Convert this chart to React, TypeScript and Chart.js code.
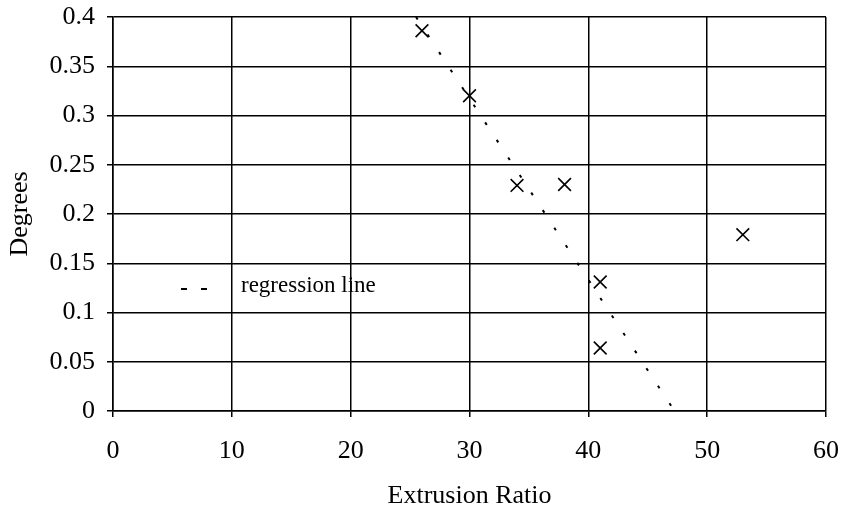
import React, { useEffect, useRef } from "react";
import { Chart, registerables } from "chart.js";
Chart.register(...registerables);

const extrusionRatio = [26, 30, 34, 38, 41, 41, 53];
const degrees = [0.386, 0.32, 0.229, 0.23, 0.131, 0.064, 0.179];
const regressionX = [25.5, 47.25];
const regressionY = [0.4, 0];
const xTicks = [0, 10, 20, 30, 40, 50, 60];
const xTickLabels = ["0", "10", "20", "30", "40", "50", "60"];
const yTicks = [0, 0.05, 0.1, 0.15, 0.2, 0.25, 0.3, 0.35, 0.4];
const yTickLabels = ["0", "0.05", "0.1", "0.15", "0.2", "0.25", "0.3", "0.35", "0.4"];
const xTitle = "Extrusion Ratio";
const yTitle = "Degrees";
const regressionLabel = "regression line";

const FONT = "'Liberation Serif', 'Times New Roman', serif";

const insideLegend = {
  id: "insideLegend",
  afterDatasetsDraw(chart: any) {
    const ctx = chart.ctx;
    const a = chart.chartArea;
    const ds = chart.data.datasets[1];
    ctx.save();
    ctx.strokeStyle = "#000";
    ctx.lineWidth = 2;
    ctx.setLineDash([6, 14]);
    ctx.beginPath();
    ctx.moveTo(a.left + 68, a.top + 272);
    ctx.lineTo(a.left + 96, a.top + 272);
    ctx.stroke();
    ctx.setLineDash([]);
    ctx.fillStyle = "#000";
    ctx.font = `23px ${FONT}`;
    ctx.textBaseline = "alphabetic";
    ctx.textAlign = "left";
    ctx.fillText(ds.label, a.left + 128, a.top + 275);
    ctx.restore();
  },
};

export default function App() {
  const ref = useRef<HTMLCanvasElement | null>(null);
  useEffect(() => {
    document.body.style.margin = "0";
    const c = ref.current!;
    const chart = new Chart(c, {
      type: "scatter",
      data: {
        datasets: [
          {
            type: "scatter",
            label: "data",
            data: extrusionRatio.map((x, i) => ({ x, y: degrees[i] })),
            pointStyle: "crossRot",
            pointRadius: 9,
            pointBorderWidth: 1.6,
            borderColor: "#000",
            backgroundColor: "#000",
            showLine: false,
          } as any,
          {
            type: "line",
            label: regressionLabel,
            data: regressionX.map((x, i) => ({ x, y: regressionY[i] })),
            borderColor: "#000",
            borderWidth: 2,
            borderDash: [3, 18],
            pointRadius: 0,
            fill: false,
          } as any,
        ],
      },
      options: {
        animation: false,
        responsive: true,
        maintainAspectRatio: false,
        layout: { padding: { top: 17, right: 16, left: 0, bottom: 0 } },
        plugins: { legend: { display: false }, tooltip: { enabled: false } },
        scales: {
          x: {
            type: "linear",
            min: 0,
            max: 60,
            afterFit: (s: any) => {
              s.height = 101;
              s.paddingLeft = 0;
              s.paddingRight = 0;
            },
            afterBuildTicks: (s: any) => {
              s.ticks = xTicks.map((v) => ({ value: v }));
            },
            ticks: {
              callback: (_v: any, i: number) => xTickLabels[i],
              color: "#000",
              font: { family: FONT, size: 26 },
              padding: 19,
              maxRotation: 0,
            },
            grid: { color: "#000", lineWidth: 1.5, drawTicks: true, tickLength: 6, tickColor: "#000" },
            border: { display: true, color: "#000", width: 1.5 },
            title: {
              display: true,
              text: xTitle,
              color: "#000",
              font: { family: FONT, size: 26 },
              padding: { top: 0, bottom: 0 },
            },
          },
          y: {
            type: "linear",
            min: 0,
            max: 0.4,
            afterFit: (s: any) => {
              s.width = 113;
              s.paddingTop = 0;
              s.paddingBottom = 0;
            },
            afterBuildTicks: (s: any) => {
              s.ticks = yTicks.map((v) => ({ value: v }));
            },
            ticks: {
              callback: (_v: any, i: number) => yTickLabels[i],
              color: "#000",
              font: { family: FONT, size: 26 },
              padding: 12,
            },
            grid: { color: "#000", lineWidth: 1.5, drawTicks: true, tickLength: 6, tickColor: "#000" },
            border: { display: true, color: "#000", width: 1.5 },
            title: {
              display: true,
              text: yTitle,
              color: "#000",
              font: { family: FONT, size: 26 },
              padding: { top: 5, bottom: 0 },
            },
          },
        },
      } as any,
      plugins: [insideLegend],
    });
    return () => chart.destroy();
  }, []);
  return (
    <div style={{ width: 842, height: 512, position: "relative", background: "#fff" }}>
      <canvas ref={ref} />
    </div>
  );
}
